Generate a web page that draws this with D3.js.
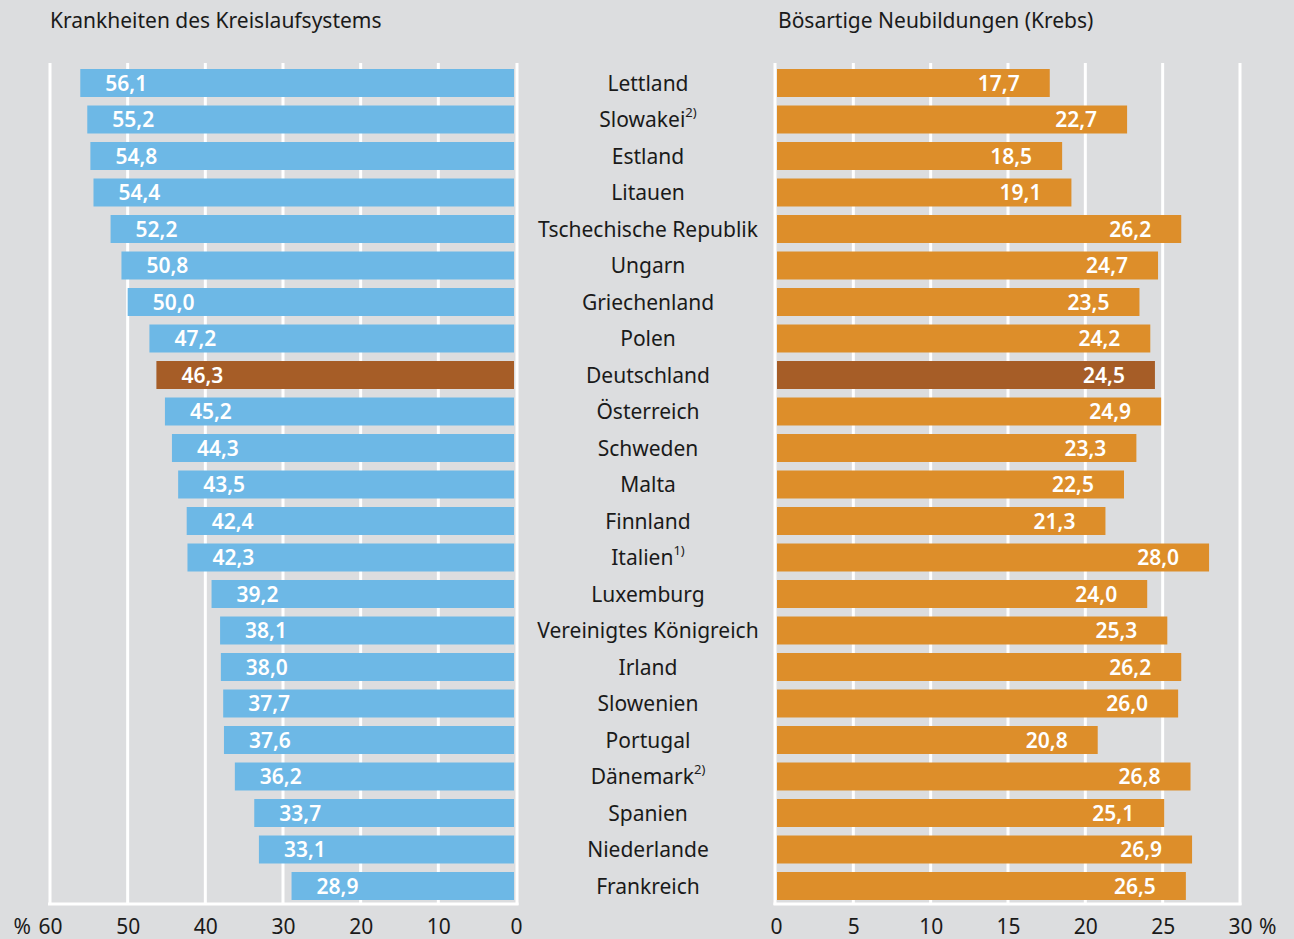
<!DOCTYPE html>
<html>
<head>
<meta charset="utf-8">
<script src="https://cdn.jsdelivr.net/npm/d3@7"></script>
<style>
  body { margin: 0; background: #dcdddf; }
  text { font-family: "Noto Sans", "Open Sans", sans-serif; }
</style>
</head>
<body>
<div id="chart"></div>
<script>
var width = 1294;
var height = 939;

// data
var countries = ["Lettland", "Slowakei", "Estland", "Litauen", "Tschechische Republik", "Ungarn",
  "Griechenland", "Polen", "Deutschland", "Österreich", "Schweden", "Malta", "Finnland", "Italien",
  "Luxemburg", "Vereinigtes Königreich", "Irland", "Slowenien", "Portugal", "Dänemark", "Spanien",
  "Niederlande", "Frankreich"];
var notes = ["", "2)", "", "", "", "", "", "", "", "", "", "", "", "1)", "", "", "", "", "", "2)", "", "", ""];
var kreislauf = [56.1, 55.2, 54.8, 54.4, 52.2, 50.8, 50.0, 47.2, 46.3, 45.2, 44.3, 43.5, 42.4, 42.3,
  39.2, 38.1, 38.0, 37.7, 37.6, 36.2, 33.7, 33.1, 28.9];
var krebs = [17.7, 22.7, 18.5, 19.1, 26.2, 24.7, 23.5, 24.2, 24.5, 24.9, 23.3, 22.5, 21.3, 28.0,
  24.0, 25.3, 26.2, 26.0, 20.8, 26.8, 25.1, 26.9, 26.5];
var leftTicks = [0, 10, 20, 30, 40, 50, 60];
var rightTicks = [0, 5, 10, 15, 20, 25, 30];
var highlight = "Deutschland";

var rows = countries.map(function(c, i) {
  return { country: c, note: notes[i], left: kreislauf[i], right: krebs[i] };
});

var fmt = function(v) { return d3.format(".1f")(v).replace(".", ","); };

var svg = d3.select('#chart')
  .append('svg')
  .attr('width', width)
  .attr('height', height);

var y = d3.scaleBand()
  .domain(countries)
  .range([64.75, 904.25])
  .paddingInner(0.233)
  .paddingOuter(0.1165);

var xL = d3.scaleLinear().domain([0, 60]).range([516, 50]);
var xR = d3.scaleLinear().domain([0, 30]).range([776, 1240]);

var gridTop = 63, gridBottom = 905;

// gridlines
svg.append("g")
  .selectAll("line")
  .data(leftTicks)
  .enter().append("line")
  .attr("x1", d => xL(d) + (d === 0 ? 1 : 0))
  .attr("x2", d => xL(d) + (d === 0 ? 1 : 0))
  .attr("y1", gridTop)
  .attr("y2", gridBottom)
  .attr("stroke", "#fff")
  .attr("stroke-width", 3);

svg.append("g")
  .selectAll("line")
  .data(rightTicks)
  .enter().append("line")
  .attr("x1", d => xR(d) - (d === 0 ? 1 : 0))
  .attr("x2", d => xR(d) - (d === 0 ? 1 : 0))
  .attr("y1", gridTop)
  .attr("y2", gridBottom)
  .attr("stroke", "#fff")
  .attr("stroke-width", 3);

// bottom frame lines
svg.append("line")
  .attr("x1", xL(60) - 2).attr("x2", xL(0) + 2.5)
  .attr("y1", gridBottom - 1).attr("y2", gridBottom - 1)
  .attr("stroke", "#fff").attr("stroke-width", 3);
svg.append("line")
  .attr("x1", xR(0) - 2.5).attr("x2", xR(30) + 1.5)
  .attr("y1", gridBottom - 1).attr("y2", gridBottom - 1)
  .attr("stroke", "#fff").attr("stroke-width", 3);

// left bars
svg.append("g")
  .selectAll("rect")
  .data(rows)
  .enter().append("rect")
  .attr("x", d => xL(d.left))
  .attr("y", d => y(d.country))
  .attr("width", d => xL(0) - xL(d.left) - 2)
  .attr("height", y.bandwidth())
  .attr("fill", d => d.country === highlight ? "#a65d27" : "#6db8e6");

svg.append("g")
  .selectAll("text")
  .data(rows)
  .enter().append("text")
  .attr("x", d => xL(d.left) + 25)
  .attr("y", d => y(d.country) + y.bandwidth() / 2)
  .attr("dy", "0.36em")
  .attr("fill", "#fff")
  .attr("font-size", "21px")
  .attr("font-weight", 600)
  .text(d => fmt(d.left));

// right bars
svg.append("g")
  .selectAll("rect")
  .data(rows)
  .enter().append("rect")
  .attr("x", xR(0) + 1)
  .attr("y", d => y(d.country))
  .attr("width", d => xR(d.right) - xR(0) - 1)
  .attr("height", y.bandwidth())
  .attr("fill", d => d.country === highlight ? "#a65d27" : "#dd8e2a");

svg.append("g")
  .selectAll("text")
  .data(rows)
  .enter().append("text")
  .attr("x", d => xR(d.right) - 30)
  .attr("y", d => y(d.country) + y.bandwidth() / 2)
  .attr("dy", "0.36em")
  .attr("text-anchor", "end")
  .attr("fill", "#fff")
  .attr("font-size", "21px")
  .attr("font-weight", 600)
  .text(d => fmt(d.right));

// country labels
var lab = svg.append("g")
  .selectAll("text")
  .data(rows)
  .enter().append("text")
  .attr("x", 648)
  .attr("y", d => y(d.country) + y.bandwidth() / 2)
  .attr("dy", "0.36em")
  .attr("text-anchor", "middle")
  .attr("fill", "#1a1a1a")
  .attr("font-size", "21px");
lab.append("tspan").text(d => d.country);
lab.filter(d => d.note).append("tspan")
  .attr("font-size", "13px")
  .attr("dy", "-0.75em")
  .text(d => d.note);

// axes
var axL = svg.append("g")
  .attr("transform", "translate(0," + 916 + ")")
  .call(d3.axisBottom(xL).tickValues(leftTicks).tickSize(0).tickFormat(d => d));
var axR = svg.append("g")
  .attr("transform", "translate(0," + 916 + ")")
  .call(d3.axisBottom(xR).tickValues(rightTicks).tickSize(0).tickFormat(d => d));
[axL, axR].forEach(function(ax) {
  ax.select(".domain").remove();
  ax.selectAll("text")
    .attr("font-size", "21px")
    .attr("fill", "#1a1a1a")
    .attr("font-family", "'Noto Sans', 'Open Sans', sans-serif");
});

svg.append("text")
  .attr("x", 31).attr("y", 934)
  .attr("text-anchor", "end")
  .attr("font-size", "21px").attr("fill", "#1a1a1a")
  .text("%");
svg.append("text")
  .attr("x", 1259).attr("y", 934)
  .attr("font-size", "21px").attr("fill", "#1a1a1a")
  .text("%");

// titles
svg.append("text")
  .attr("x", 50).attr("y", 28)
  .attr("font-size", "21px").attr("fill", "#1a1a1a")
  .text("Krankheiten des Kreislaufsystems");
svg.append("text")
  .attr("x", 778).attr("y", 28)
  .attr("font-size", "21px").attr("fill", "#1a1a1a")
  .text("Bösartige Neubildungen (Krebs)");
</script>
</body>
</html>
